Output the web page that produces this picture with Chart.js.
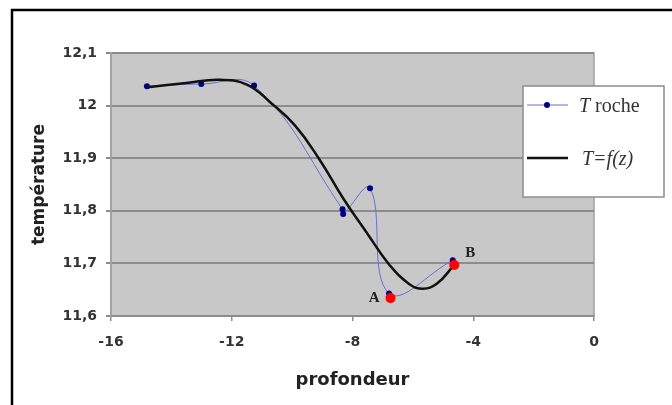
<!DOCTYPE html>
<html>
<head>
<meta charset="utf-8">
<script src="https://cdn.jsdelivr.net/npm/chart.js@4/dist/chart.umd.min.js"></script>
<style>
  html, body { margin: 0; padding: 0; background: #fff; }
  #wrap { width: 672px; height: 405px; position: relative; }
</style>
</head>
<body>
<div id="wrap"><canvas id="graphe"></canvas></div>
<script>
// valeurs
const rocheX = [-14.81, -13.01, -11.26, -8.33, -8.31, -7.42, -6.79, -4.68];
const rocheY = [12.037, 12.041, 12.038, 11.803, 11.794, 11.843, 11.643, 11.706];

const fitX = [-14.78, -13.5, -12.4, -11.5, -10.7, -9.9, -9.1, -8.3, -7.5, -6.8, -6.2, -5.7, -5.2, -4.63];
const fitY = [12.035, 12.043, 12.049, 12.040, 12.005, 11.962, 11.898, 11.823, 11.756, 11.699, 11.664, 11.652, 11.662, 11.697];

const ptsNoms = ['A', 'B'];
const ptsX = [-6.74, -4.63];
const ptsY = [11.634, 11.697];

const xTickLabels = ['-16', '-12', '-8', '-4', '0'];
const yTickLabels = ['11,6', '11,7', '11,8', '11,9', '12', '12,1'];

const xy = (xs, ys) => xs.map((x, i) => ({ x: x, y: ys[i] }));

const fondPlugin = {
  id: 'fond',
  beforeDraw(chart) {
    const c = chart.ctx, a = chart.chartArea;
    c.save();
    c.fillStyle = '#fff';
    c.fillRect(0, 0, chart.width, chart.height);
    // cadre noir
    c.strokeStyle = '#000';
    c.lineWidth = 2.5;
    c.beginPath();
    c.moveTo(12, 420);
    c.lineTo(12, 10);
    c.lineTo(680, 10);
    c.stroke();
    c.fillStyle = '#c8c8c8';
    c.fillRect(a.left, a.top, a.right - a.left, a.bottom - a.top);
    c.strokeStyle = '#a0a0a0';
    c.lineWidth = 1.5;
    c.strokeRect(a.left, a.top, a.right - a.left, a.bottom - a.top);
    c.restore();
  }
};

const textesPlugin = {
  id: 'textes',
  afterDraw(chart) {
    const c = chart.ctx;
    const sx = chart.scales.x, sy = chart.scales.y;
    c.save();
    // lettres A et B
    c.font = 'bold 15px "Liberation Serif"';
    c.fillStyle = '#222';
    c.textBaseline = 'middle';
    c.textAlign = 'right';
    c.fillText(ptsNoms[0], sx.getPixelForValue(ptsX[0]) - 11, sy.getPixelForValue(ptsY[0]));
    c.textAlign = 'left';
    c.fillText(ptsNoms[1], sx.getPixelForValue(ptsX[1]) + 11, sy.getPixelForValue(ptsY[1]) - 12);

    // légende
    c.fillStyle = '#fff';
    c.fillRect(523, 86, 141, 111);
    c.strokeStyle = '#8c8c8c';
    c.lineWidth = 1.5;
    c.strokeRect(523, 86, 141, 111);

    c.strokeStyle = '#6e6ed2';
    c.lineWidth = 1;
    c.beginPath();
    c.moveTo(527, 105);
    c.lineTo(568, 105);
    c.stroke();
    c.fillStyle = '#000080';
    c.beginPath();
    c.arc(547, 105, 3, 0, Math.PI * 2);
    c.fill();

    c.strokeStyle = '#111';
    c.lineWidth = 2.5;
    c.beginPath();
    c.moveTo(527, 158);
    c.lineTo(568, 158);
    c.stroke();

    c.fillStyle = '#333';
    c.textAlign = 'left';
    c.textBaseline = 'middle';
    c.font = 'italic 20px "Liberation Serif"';
    c.fillText('T', 579, 107);
    const w = c.measureText('T').width;
    c.font = '20px "Liberation Serif"';
    c.fillText(' roche', 579 + w, 107);
    c.font = 'italic 20px "Liberation Serif"';
    c.fillText('T=f(z)', 582, 160);
    c.restore();
  }
};

new Chart(document.getElementById('graphe'), {
  type: 'scatter',
  data: {
    datasets: [
      {
        label: 'A, B',
        data: xy(ptsX, ptsY),
        showLine: false,
        pointRadius: 5,
        pointBackgroundColor: '#ff0000',
        pointBorderWidth: 0,
        order: 0
      },
      {
        label: 'T=f(z)',
        data: xy(fitX, fitY),
        showLine: true,
        borderColor: '#111',
        borderWidth: 2.5,
        tension: 0.45,
        pointRadius: 0,
        order: 1
      },
      {
        label: 'T roche',
        data: xy(rocheX, rocheY),
        showLine: true,
        borderColor: '#6e6ed2',
        borderWidth: 1,
        tension: 0.4,
        pointRadius: 3,
        pointBackgroundColor: '#000080',
        pointBorderWidth: 0,
        order: 2
      }
    ]
  },
  options: {
    responsive: true,
    maintainAspectRatio: false,
    animation: false,
    layout: { padding: { left: 14, top: 53, right: 78, bottom: 0 } },
    plugins: {
      legend: { display: false },
      tooltip: { enabled: false }
    },
    scales: {
      x: {
        type: 'linear',
        min: -16,
        max: 0,
        afterFit: (s) => { s.height = 89; },
        ticks: {
          stepSize: 4,
          padding: 13,
          color: '#333',
          font: { family: 'DejaVu Sans', size: 14, weight: 'bold' },
          callback: (v, i) => xTickLabels[i]
        },
        grid: {
          drawOnChartArea: false,
          tickLength: 5,
          color: '#8c8c8c',
          lineWidth: 1.5
        },
        border: { color: '#8c8c8c', width: 2 },
        title: {
          display: true,
          text: 'profondeur',
          color: '#222',
          font: { family: 'DejaVu Sans', size: 18, weight: 'bold' },
          padding: { top: 0, bottom: 14 }
        }
      },
      y: {
        min: 11.6,
        max: 12.1,
        afterFit: (s) => { s.width = 97; },
        ticks: {
          stepSize: 0.1,
          padding: 9,
          color: '#333',
          font: { family: 'DejaVu Sans', size: 14, weight: 'bold' },
          callback: (v, i) => yTickLabels[i]
        },
        grid: {
          tickLength: 5,
          color: '#8c8c8c',
          lineWidth: 2
        },
        border: { color: '#a0a0a0', width: 1.5 },
        title: {
          display: true,
          text: 'température',
          color: '#222',
          font: { family: 'DejaVu Sans', size: 17, weight: 'bold' },
          padding: { top: 15, bottom: 0 }
        }
      }
    }
  },
  plugins: [fondPlugin, textesPlugin]
});
</script>
</body>
</html>
